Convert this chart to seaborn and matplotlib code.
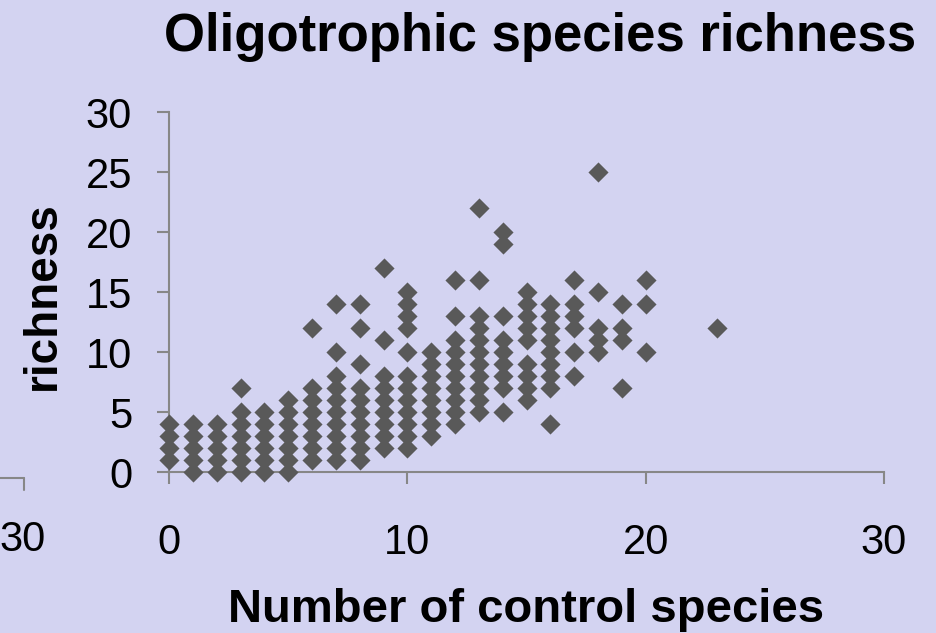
import pandas as pd
import seaborn as sns
import matplotlib.pyplot as plt
from matplotlib.lines import Line2D

# number of control species (x) and the richness values seen at each x
control_counts = [0, 1, 2, 3, 4, 5, 6, 7, 8, 9, 10, 11, 12, 13, 14, 15, 16, 17, 18, 19, 20, 23]
richness_at_count = [
    [1, 2, 3, 4],
    [0, 1, 2, 3, 4],
    [0, 1, 2, 3, 4],
    [0, 1, 2, 3, 4, 5, 7],
    [0, 1, 2, 3, 4, 5],
    [0, 1, 2, 3, 4, 5, 6],
    [1, 2, 3, 4, 5, 6, 7, 12],
    [1, 2, 3, 4, 5, 6, 7, 8, 10, 14],
    [1, 2, 3, 4, 5, 6, 7, 9, 12, 14],
    [2, 3, 4, 5, 6, 7, 8, 11, 17],
    [2, 3, 4, 5, 6, 7, 8, 10, 12, 13, 14, 15],
    [3, 4, 5, 6, 7, 8, 9, 10],
    [4, 5, 6, 7, 8, 9, 10, 11, 13, 16],
    [5, 6, 7, 8, 9, 10, 11, 12, 13, 16, 22],
    [5, 7, 8, 9, 10, 11, 13, 19, 20],
    [6, 7, 8, 9, 11, 12, 13, 14, 15],
    [4, 7, 8, 9, 10, 11, 12, 13, 14],
    [8, 10, 12, 13, 14, 16],
    [10, 11, 12, 15, 25],
    [7, 11, 12, 14],
    [10, 14, 16],
    [12],
]
x_ticks = [0, 10, 20, 30]
y_ticks = [0, 5, 10, 15, 20, 25, 30]

rows = []
for x, ys in zip(control_counts, richness_at_count):
    for y in ys:
        rows.append({"control": x, "richness": y})
df = pd.DataFrame(rows)

bg = "#D3D3F1"
spine_col = "#878787"

sns.set_style("white")
plt.rcParams["font.family"] = ["Liberation Sans", "DejaVu Sans"]
plt.rcParams["text.color"] = "black"
plt.rcParams["axes.labelcolor"] = "black"
plt.rcParams["xtick.labelcolor"] = "black"
plt.rcParams["ytick.labelcolor"] = "black"

fig = plt.figure(figsize=(9.36, 6.33), dpi=100, facecolor=bg)
ax = fig.add_axes([169 / 936, 161 / 633, 715 / 936, 360 / 633])
ax.set_facecolor(bg)

sns.scatterplot(data=df, x="control", y="richness", marker="D", s=105,
                color="#595959", linewidth=0, clip_on=False, ax=ax, zorder=3)

ax.set_xlim(0, 30)
ax.set_ylim(0, 30)
ax.set_xticks(x_ticks)
ax.set_yticks(y_ticks)
ax.tick_params(axis="x", direction="out", length=8.6, width=1.5, color=spine_col,
               labelsize=30, labelcolor="black", pad=28, bottom=True)
ax.tick_params(axis="y", direction="out", length=8.6, width=1.5, color=spine_col,
               labelsize=30, labelcolor="black", pad=18, left=True)

for side in ["top", "right"]:
    ax.spines[side].set_visible(False)
for side in ["left", "bottom"]:
    ax.spines[side].set_color(spine_col)
    ax.spines[side].set_linewidth(1.5)

ax.set_xlabel("Number of control species", fontsize=34, fontweight="bold", color="black")
ax.xaxis.set_label_coords(0.5, -0.322)
ax.set_ylabel("richness", fontsize=33, fontweight="bold", color="black")
ax.yaxis.set_label_coords(-0.145, 0.49)

fig.text(540 / 936, 1 - 37 / 633, "Oligotrophic species richness",
         fontsize=38, fontweight="bold", ha="center", va="center", color="black")

# leftover axis end of a neighbouring chart, cut off at the left edge
fig.text(23 / 936, 1 - 540 / 633, "30", fontsize=30, ha="center", va="center", color="black")
y_line = 1 - 478 / 633
fig.add_artist(Line2D([0, 24 / 936], [y_line, y_line], color=spine_col, lw=1.5))
fig.add_artist(Line2D([24 / 936, 24 / 936], [y_line, 1 - 490 / 633], color=spine_col, lw=1.5))

fig.savefig("out.png", dpi=100, facecolor=bg)
